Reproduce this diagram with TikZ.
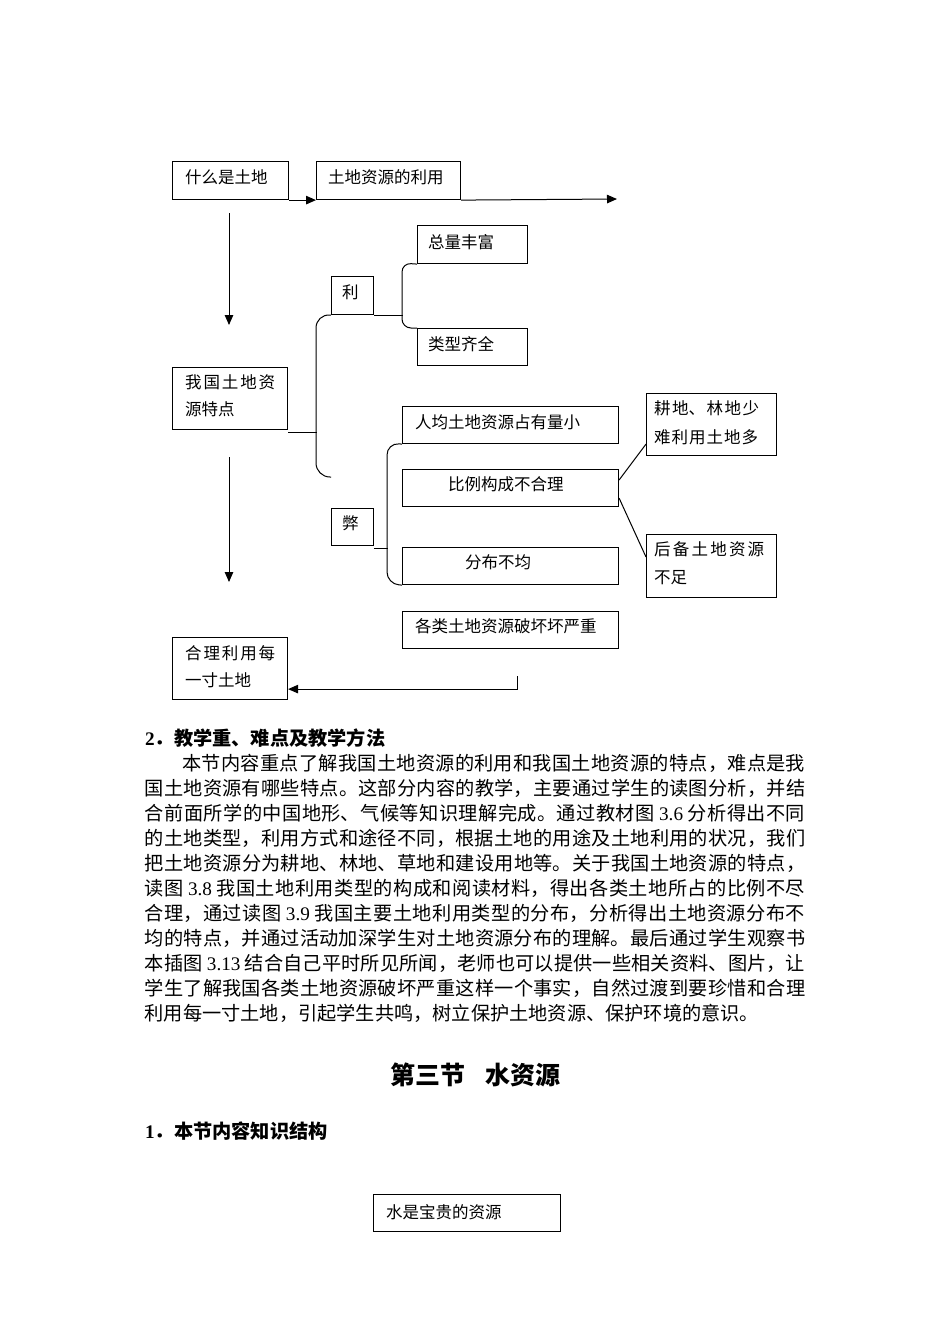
\documentclass[tikz,border=0pt]{standalone}
\usepackage{fontspec}
\setmainfont{Liberation Serif}
\newfontfamily\cjk{Noto Sans CJK SC}
\usetikzlibrary{arrows.meta,calc}
\XeTeXlinebreaklocale "zh"
\XeTeXlinebreakskip=0pt plus 4pt minus 0.4pt
\newcommand\jl[2]{\parbox[b]{#1}{\parindent=0pt\parfillskip=0pt\leftskip=0pt\rightskip=0pt #2\par}}
\tikzset{
  box/.style={draw, line width=1.1pt, inner sep=0pt, anchor=north west, rectangle},
  dtxt/.style={anchor=base west, inner sep=0pt, font=\cjk\fontsize{16.5}{20}\selectfont},
  ptxt/.style={anchor=base west, inner sep=0pt, font=\cjk\fontsize{19.2}{25}\selectfont},
  htxt/.style={anchor=base west, inner sep=0pt, font=\cjk\bfseries\fontsize{19.2}{25}\selectfont},
  ttxt/.style={anchor=base west, inner sep=0pt, font=\cjk\bfseries\fontsize{25}{30}\selectfont},
  conn/.style={line width=1pt},
  arr/.style={conn, -{Triangle[length=10pt,width=8.5pt]}},
  brace/.style={conn}
}
\begin{document}
\begin{tikzpicture}[x=1pt,y=-1pt]
\fill[white] (0,0) rectangle (950,1344);
\useasboundingbox (0,0) rectangle (950,1344);

% ---- boxes ----
\node[box, minimum width=116pt, minimum height=38pt] (a) at (172,161) {};
\node[box, minimum width=144pt, minimum height=38pt] (b) at (316,161) {};
\node[box, minimum width=110pt, minimum height=38pt] (c) at (417,225) {};
\node[box, minimum width=42pt,  minimum height=38pt] (d) at (331,276) {};
\node[box, minimum width=110pt, minimum height=37pt] (e) at (417,328) {};
\node[box, minimum width=115pt, minimum height=62pt] (f) at (172,367) {};
\node[box, minimum width=216pt, minimum height=37pt] (g) at (402,406) {};
\node[box, minimum width=216pt, minimum height=37pt] (h) at (402,469) {};
\node[box, minimum width=42pt,  minimum height=37pt] (i) at (331,508) {};
\node[box, minimum width=216pt, minimum height=37pt] (j) at (402,547) {};
\node[box, minimum width=216pt, minimum height=37pt] (k) at (402,611) {};
\node[box, minimum width=115pt, minimum height=62pt] (l) at (172,637) {};
\node[box, minimum width=130pt, minimum height=62pt] (m) at (646,393) {};
\node[box, minimum width=130pt, minimum height=63pt] (n) at (646,534) {};
\node[box, minimum width=187pt, minimum height=37pt] (o) at (373,1194) {};

% ---- box texts ----
\node[dtxt] (at) at (185,183.3) {什么是土地};
\node[dtxt] (bt) at (328,183.3) {土地资源的利用};
\node[dtxt] (ct) at (428,248.3) {总量丰富};
\node[dtxt] (dt) at (342,298.3) {利};
\node[dtxt] (et) at (428,350.3) {类型齐全};
\node[dtxt] (ft1) at (185,388.3) {\jl{90pt}{我国土地资}};
\node[dtxt] (ft2) at (185,415.3) {源特点};
\node[dtxt] (gt) at (415,428.3) {人均土地资源占有量小};
\node[dtxt] (ht) at (448,490.3) {比例构成不合理};
\node[dtxt] (it) at (342,529.3) {弊};
\node[dtxt] (jt) at (465,568.3) {分布不均};
\node[dtxt] (kt) at (415,632.3) {各类土地资源破坏坏严重};
\node[dtxt] (lt1) at (185,659.3) {\jl{90pt}{合理利用每}};
\node[dtxt] (lt2) at (185,686.3) {一寸土地};
\node[dtxt] (mt1) at (654,414.3) {\jl{105pt}{耕地、林地少}};
\node[dtxt] (mt2) at (654,443.3) {\jl{104pt}{难利用土地多}};
\node[dtxt] (nt1) at (654,555.3) {\jl{110pt}{后备土地资源}};
\node[dtxt] (nt2) at (654,583.3) {不足};
\node[dtxt] (ot) at (386,1218.3) {水是宝贵的资源};

% ---- connectors ----
\coordinate (bend) at (617,199);
\coordinate (v1a) at (229,213);
\coordinate (v1b) at (229,325);
\coordinate (v2a) at (229,457);
\coordinate (v2b) at (229,582);
\coordinate (r0) at (517,676);
\coordinate (bb) at (331,477);

\draw[arr] (a.south east) -- (b.south west);
\draw[arr] (b.south east) -- (bend);
\draw[arr] (v1a) -- (v1b);
\draw[arr] (v2a) -- (v2b);
\draw[arr] (r0) |- ($(l.south east)+(0,-11)$);

% big brace
\draw[conn] ($(f.south east)+(0,2)$) -- ++(29,0);
\draw[brace, rounded corners=14pt] (d.south west) -- (316,314) -- (316,477) -- (bb);
% brace for 利
\draw[conn] (d.south east) -- ++(29,0);
\draw[brace, rounded corners=9pt] (c.south west) -- (402,263) -- (402,328) -- (e.north west);
% brace for 弊
\draw[conn] ($(i.south east)+(0,2)$) -- ++(14,0);
\draw[brace, rounded corners=12pt] (g.south west) -- (387,443) -- (387,584) -- (j.south west);
% branches
\draw[conn] ($(h.north east)+(0,11)$) -- ($(m.south west)+(0,-12)$);
\draw[conn] ($(h.south east)+(0,-9)$) -- ($(n.north west)+(0,23)$);

% ---- text body ----
\node[htxt] (h2) at (145,745.3) {{\normalfont\bfseries 2}．教学重、难点及教学方法};
\node[ptxt] (p1) at (182,770.3) {\jl{623pt}{本节内容重点了解我国土地资源的利用和我国土地资源的特点，难点是我}};
\node[ptxt] (p2) at (144.5,795.3) {\jl{660.5pt}{国土地资源有哪些特点。这部分内容的教学，主要通过学生的读图分析，并结}};
\node[ptxt] (p3) at (144.5,820.3) {\jl{660.5pt}{合前面所学的中国地形、气候等知识理解完成。通过教材图 {\normalfont 3.6} 分析得出不同}};
\node[ptxt] (p4) at (144.5,845.3) {\jl{660.5pt}{的土地类型，利用方式和途径不同，根据土地的用途及土地利用的状况，我们}};
\node[ptxt] (p5) at (144.5,870.3) {\jl{660.5pt}{把土地资源分为耕地、林地、草地和建设用地等。关于我国土地资源的特点，}};
\node[ptxt] (p6) at (144.5,895.3) {\jl{660.5pt}{读图 {\normalfont 3.8} 我国土地利用类型的构成和阅读材料，得出各类土地所占的比例不尽}};
\node[ptxt] (p7) at (144.5,920.3) {\jl{660.5pt}{合理，通过读图 {\normalfont 3.9} 我国主要土地利用类型的分布，分析得出土地资源分布不}};
\node[ptxt] (p8) at (144.5,945.3) {\jl{660.5pt}{均的特点，并通过活动加深学生对土地资源分布的理解。最后通过学生观察书}};
\node[ptxt] (p9) at (144.5,970.3) {\jl{660.5pt}{本插图 {\normalfont 3.13} 结合自己平时所见所闻，老师也可以提供一些相关资料、图片，让}};
\node[ptxt] (p10) at (144.5,995.3) {\jl{660.5pt}{学生了解我国各类土地资源破坏严重这样一个事实，自然过渡到要珍惜和合理}};
\node[ptxt] (p11) at (144.5,1020.3) {利用每一寸土地，引起学生共鸣，树立保护土地资源、保护环境的意识。};

\node[ttxt] (title) at (390,1084.5) {第三节\hspace{20pt}水资源};
\node[htxt] (h1) at (145,1138.3) {{\normalfont\bfseries 1}．本节内容知识结构};
\end{tikzpicture}
\end{document}
